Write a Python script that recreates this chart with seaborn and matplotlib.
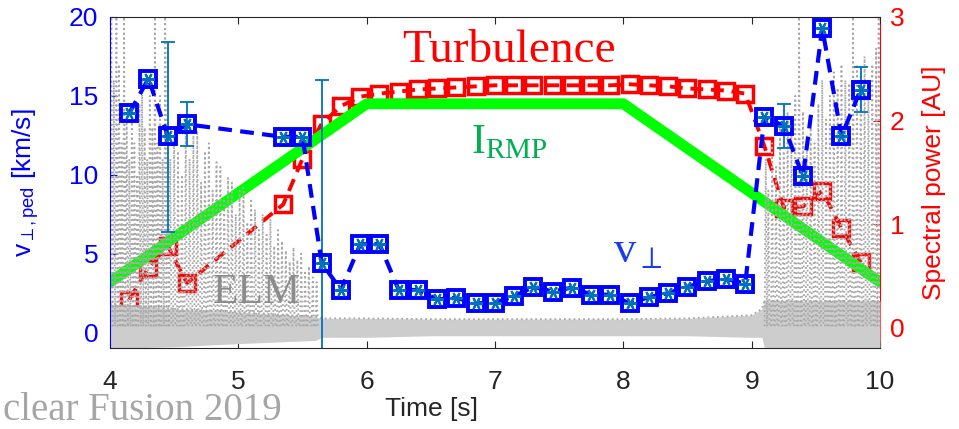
import numpy as np
import pandas as pd
import matplotlib
matplotlib.use('Agg')
import matplotlib.pyplot as plt
import seaborn as sns

# ---------------- data ----------------
v_time = [4.15, 4.30, 4.45, 4.60, 5.35, 5.50, 5.65, 5.80, 5.95, 6.10, 6.25, 6.40,
          6.55, 6.70, 6.85, 7.00, 7.15, 7.30, 7.45, 7.60, 7.75, 7.90, 8.05, 8.20,
          8.35, 8.50, 8.65, 8.80, 8.95, 9.10, 9.25, 9.40, 9.55, 9.70, 9.85]
v_perp = [13.9, 16.1, 12.45, 13.2, 12.4, 12.4, 4.4, 2.7, 5.6, 5.6, 2.7, 2.7,
          2.1, 2.2, 1.85, 1.9, 2.3, 2.9, 2.6, 2.85, 2.4, 2.4, 1.85, 2.25,
          2.5, 2.9, 3.25, 3.4, 3.1, 13.65, 13.1, 9.9, 19.3, 12.45, 15.4]

spec_time = v_time
spec_power = [0.27, 0.58, 0.79, 0.43, 1.19, 1.63, 1.97, 2.14, 2.23, 2.26, 2.28, 2.30,
              2.31, 2.32, 2.33, 2.34, 2.34, 2.34, 2.34, 2.34, 2.34, 2.34, 2.35, 2.34,
              2.33, 2.31, 2.30, 2.29, 2.26, 1.75, 1.16, 1.17, 1.32, 0.96, 0.63]

err_time = [4.45, 4.60, 5.65, 9.25, 9.85]
err_val = [12.4, 13.2, 4.4, 13.1, 15.4]
err_size = [6.0, 1.4, 11.6, 1.4, 1.4]

rmp_time = [4.0, 6.0, 8.0, 10.0]
rmp_val = [3.2, 14.5, 14.5, 3.2]

elm_spike_t = [4.01, 4.03, 4.05, 4.07, 4.09, 4.11, 4.13, 4.15, 4.17, 4.19, 4.21, 4.23,
               4.25, 4.27, 4.29, 4.31, 4.33, 4.35, 4.37, 4.39, 4.41, 4.43, 4.45, 4.47,
               4.50, 4.53, 4.56, 4.59, 4.62, 4.65, 4.68, 4.71, 4.74, 4.77, 4.80, 4.83,
               4.86, 4.89, 4.92, 4.95, 4.98, 5.01, 5.04, 5.07, 5.10, 5.13, 5.16, 5.19,
               5.22, 5.25, 5.28, 5.31, 5.34, 5.37, 5.40, 5.43, 5.46, 5.49, 5.52, 5.55,
               5.58, 5.61,
               9.11, 9.13, 9.16, 9.19, 9.22, 9.25, 9.28, 9.31, 9.34, 9.37, 9.40, 9.43,
               9.46, 9.49, 9.52, 9.55, 9.58, 9.61, 9.64, 9.67, 9.70, 9.73, 9.76, 9.79,
               9.82, 9.85, 9.88, 9.91, 9.94, 9.97, 9.99]
elm_spike_v = [20, 16, 20, 17, 12, 20, 14, 11, 13.5, 12, 10, 14.5,
               16, 13, 11, 15, 13, 20, 12, 15, 11, 20, 18.5, 11,
               12.5, 11.5, 10, 12.8, 11, 12.5, 12.8, 9.5, 11.5, 12, 9, 10.8,
               10.5, 8.5, 9.8, 9.5, 7.5, 9, 9.2, 7, 8.5, 7.8, 6.5, 7.5,
               6.2, 7.2, 5.5, 6.5, 5.8, 5.2, 4.5, 5.4, 4.6, 5.0, 3.8, 4.2,
               3.5, 3.2,
               11, 9, 12, 10.5, 13, 11.5, 14, 12.5, 15, 20, 14, 12.5,
               13, 12, 14.5, 16, 13.5, 15, 16.5, 15.5, 17, 16, 15.8, 20,
               17, 16.5, 17.5, 16, 17, 18, 20]

band_t = [4.0, 4.5, 5.0, 5.6, 5.65, 6.0, 6.5, 7.0, 7.5, 8.0, 8.5, 9.0, 9.08, 9.1, 9.5, 10.0]
band_lo = [-1.0, -0.9, -0.7, -0.5, -0.3, -0.3, -0.2, -0.2, -0.2, -0.2, -0.2, -0.3, -0.3, -1.0, -1.0, -1.0]
band_hi = [1.8, 1.5, 1.3, 1.0, 0.9, 0.9, 0.85, 0.85, 0.85, 0.85, 0.9, 1.1, 1.5, 2.0, 2.0, 2.0]

x_ticks = [4, 5, 6, 7, 8, 9, 10]
left_ticks = [0, 5, 10, 15, 20]
right_ticks = [0, 1, 2, 3]

# ---------------- style ----------------
sns.set_style('white')
plt.rcParams['font.family'] = ['Liberation Sans', 'DejaVu Sans']
plt.rcParams['mathtext.fontset'] = 'custom'
plt.rcParams['mathtext.rm'] = 'Liberation Serif'
plt.rcParams['mathtext.sf'] = 'Liberation Sans'
plt.rcParams['mathtext.it'] = 'Liberation Serif:italic'

BLUE = '#0000ff'
RED = '#ff0000'
MBLUE = '#0072BD'
GRAY = '#a8a8a8'

fig = plt.figure(figsize=(9.59, 4.29), dpi=100)
ax1 = fig.add_axes([0.1147, 0.188, 0.8029, 0.7724])
ax2 = ax1.twinx()
ax1.set_zorder(2)
ax2.set_zorder(1)
ax1.patch.set_visible(False)

# ---- right axis: turbulence spectral power ----
sns.lineplot(x=spec_time, y=spec_power, ax=ax2, color=RED, linewidth=2.8,
             linestyle=(0, (3.3, 2.0)), marker='s', markersize=12,
             markerfacecolor='none', markeredgecolor=RED, markeredgewidth=2.5,
             legend=False, sort=False)

# ---- ELM trace (gray) ----
ax1.fill_between(band_t, band_lo, band_hi, color='#cdcdcd', linewidth=0, zorder=1)
ax1.plot(band_t, band_hi, linestyle=':', color=GRAY, linewidth=1.3, zorder=1.2)
ex, ey = [], []
half = 0.009
for t, p in zip(elm_spike_t, elm_spike_v):
    ex += [t - half, t, t + half, np.nan]
    ey += [0.4, p, 0.4, np.nan]
ax1.plot(ex, ey, linestyle=':', color=GRAY, linewidth=1.3, zorder=2.5)

# ---- I_RMP (green) ----
sns.lineplot(x=rmp_time, y=rmp_val, ax=ax1, color='#00ff00', linewidth=7.8,
             legend=False, sort=False, zorder=2)

# ---- v_perp (blue) ----
ax1.errorbar(err_time, err_val, yerr=err_size, fmt='none', ecolor=MBLUE,
             elinewidth=1.3, capsize=5, capthick=1.3, zorder=4)
sns.lineplot(x=v_time, y=v_perp, ax=ax1, color=BLUE, linewidth=3.0,
             linestyle=(0, (3.3, 2.0)), marker='s', markersize=12,
             markerfacecolor='none', markeredgecolor=BLUE, markeredgewidth=2.8,
             legend=False, sort=False, zorder=4.5)
sns.lineplot(x=v_time, y=v_perp, ax=ax1, linestyle='none', marker=(6, 2, 90),
             markersize=9, markeredgecolor=MBLUE, markeredgewidth=1.5,
             color=MBLUE, legend=False, sort=False, zorder=5)

# ---- axes ----
ax1.set_xlim(4, 10)
ax1.set_ylim(-1, 20)
ax2.set_ylim(-0.2, 3)
ax1.set_xticks(x_ticks)
ax1.set_xticklabels([str(v) for v in x_ticks])
ax1.set_yticks(left_ticks)
ax1.set_yticklabels([str(v) for v in left_ticks])
ax2.set_yticks(right_ticks)
ax2.set_yticklabels([str(v) for v in right_ticks])

ax1.tick_params(axis='x', direction='in', length=5, width=0.8, top=True, bottom=True,
                colors='#262626', labelsize=19, pad=15.5)
ax1.tick_params(axis='y', direction='in', length=5, width=0.8, left=True, right=False,
                colors=BLUE, labelsize=19, pad=8.5)
ax2.tick_params(axis='y', direction='in', length=5, width=0.8, right=True, left=False,
                colors=RED, labelsize=19, pad=7)

for s in ['top', 'bottom']:
    ax1.spines[s].set_color('#262626')
    ax1.spines[s].set_linewidth(0.8)
ax1.spines['left'].set_color(BLUE)
ax1.spines['left'].set_linewidth(0.8)
ax1.spines['right'].set_visible(False)
for s in ['top', 'bottom', 'left']:
    ax2.spines[s].set_visible(False)
ax2.spines['right'].set_color(RED)
ax2.spines['right'].set_linewidth(0.8)

ax1.set_xlabel('Time [s]', fontsize=19, color='#262626')
ax1.xaxis.set_label_coords(0.417, -0.148)
ax1.set_ylabel(r'v$_{\perp\mathsf{,ped}}$ [km/s]', fontsize=19, color=BLUE)
ax1.yaxis.set_label_coords(-0.088, 0.5)
ax2.set_ylabel('Spectral power [AU]', fontsize=19, color=RED)
ax2.yaxis.set_label_coords(1.0545, 0.5)

# ---- annotations ----
ax1.text(7.11, 17.16, 'Turbulence', fontfamily='Liberation Serif', fontsize=34,
         color=RED, ha='center', va='baseline', zorder=6)
ax1.text(6.81, 11.38, r'$\mathrm{I}_{\mathrm{RMP}}$', fontsize=30,
         color='#00b050', ha='left', va='baseline', zorder=6)
ax1.text(7.92, 4.47, r'$\mathrm{v}_{\perp}$', fontsize=32,
         color='#1a3cf0', ha='left', va='baseline', zorder=6)
ax1.text(5.146, 1.86, 'ELM', fontfamily='Liberation Serif', fontsize=30,
         color='#8c8c8c', ha='center', va='baseline', zorder=6)
fig.text(3 / 959, 0.4 / 429, 'clear Fusion 2019', fontfamily='Liberation Serif',
         fontsize=28, color='#a6a6a6', ha='left', va='bottom')

fig.savefig('out.png', dpi=100)
